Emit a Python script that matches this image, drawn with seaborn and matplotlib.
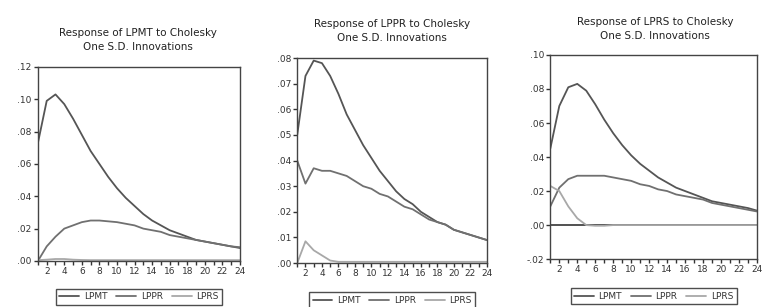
import matplotlib
matplotlib.use("Agg")
import matplotlib.pyplot as plt
import seaborn as sns
import pandas as pd
import numpy as np

periods = list(range(1, 25))
series_names = ['LPMT', 'LPPR', 'LPRS']

# Response of LPMT
lpmt_to_lpmt = [0.073, 0.099, 0.103, 0.097, 0.088, 0.078, 0.068, 0.060, 0.052, 0.045, 0.039, 0.034,
                0.029, 0.025, 0.022, 0.019, 0.017, 0.015, 0.013, 0.012, 0.011, 0.010, 0.009, 0.008]
lpmt_to_lppr = [0.000, 0.009, 0.015, 0.020, 0.022, 0.024, 0.025, 0.025, 0.0245, 0.024, 0.023, 0.022,
                0.020, 0.019, 0.018, 0.016, 0.015, 0.014, 0.013, 0.012, 0.011, 0.010, 0.009, 0.0085]
lpmt_to_lprs = [0.0005, 0.0008, 0.0012, 0.0012, 0.0008, 0.0006, 0.0005, 0.0005, 0.0005, 0.0005, 0.0005, 0.0005,
                0.0005, 0.0005, 0.0005, 0.0005, 0.0005, 0.0005, 0.0005, 0.0005, 0.0005, 0.0005, 0.0005, 0.0005]

# Response of LPPR
lppr_to_lpmt = [0.050, 0.073, 0.079, 0.078, 0.073, 0.066, 0.058, 0.052, 0.046, 0.041, 0.036, 0.032,
                0.028, 0.025, 0.023, 0.020, 0.018, 0.016, 0.015, 0.013, 0.012, 0.011, 0.010, 0.009]
lppr_to_lppr = [0.040, 0.031, 0.037, 0.036, 0.036, 0.035, 0.034, 0.032, 0.030, 0.029, 0.027, 0.026,
                0.024, 0.022, 0.021, 0.019, 0.017, 0.016, 0.015, 0.013, 0.012, 0.011, 0.010, 0.009]
lppr_to_lprs = [0.000, 0.0085, 0.005, 0.003, 0.001, 0.0005, 0.0005, 0.0005, 0.0005, 0.0005, 0.0005, 0.0005,
                0.0005, 0.0005, 0.0005, 0.0005, 0.0005, 0.0005, 0.0005, 0.0005, 0.0005, 0.0005, 0.0005, 0.0005]

# Response of LPRS
lprs_to_lpmt = [0.045, 0.070, 0.081, 0.083, 0.079, 0.071, 0.062, 0.054, 0.047, 0.041, 0.036, 0.032,
                0.028, 0.025, 0.022, 0.020, 0.018, 0.016, 0.014, 0.013, 0.012, 0.011, 0.010, 0.0085]
lprs_to_lppr = [0.011, 0.022, 0.027, 0.029, 0.029, 0.029, 0.029, 0.028, 0.027, 0.026, 0.024, 0.023,
                0.021, 0.020, 0.018, 0.017, 0.016, 0.015, 0.013, 0.012, 0.011, 0.010, 0.009, 0.008]
lprs_to_lprs = [0.023, 0.020, 0.011, 0.004, 0.000, -0.0004, -0.0004, 0.000, 0.000, 0.000, 0.000, 0.000,
                0.000, 0.000, 0.000, 0.000, 0.000, 0.000, 0.000, 0.000, 0.000, 0.000, 0.000, 0.000]

titles = ['Response of LPMT to Cholesky\nOne S.D. Innovations',
          'Response of LPPR to Cholesky\nOne S.D. Innovations',
          'Response of LPRS to Cholesky\nOne S.D. Innovations']
y_ticks = [[0.00, 0.02, 0.04, 0.06, 0.08, 0.10, 0.12],
           [0.00, 0.01, 0.02, 0.03, 0.04, 0.05, 0.06, 0.07, 0.08],
           [-0.02, 0.00, 0.02, 0.04, 0.06, 0.08, 0.10]]
y_ticklabels = [['.00', '.02', '.04', '.06', '.08', '.10', '.12'],
                ['.00', '.01', '.02', '.03', '.04', '.05', '.06', '.07', '.08'],
                ['-.02', '.00', '.02', '.04', '.06', '.08', '.10']]

panels = [(lpmt_to_lpmt, lpmt_to_lppr, lpmt_to_lprs),
          (lppr_to_lpmt, lppr_to_lppr, lppr_to_lprs),
          (lprs_to_lpmt, lprs_to_lppr, lprs_to_lprs)]

sns.set_style("white")
plt.rcParams['font.family'] = ['Liberation Sans Narrow', 'DejaVu Sans']
plt.rcParams['xtick.bottom'] = True
plt.rcParams['ytick.left'] = True
plt.rcParams['xtick.major.size'] = 3
plt.rcParams['ytick.major.size'] = 3

palette = {'LPMT': '#555555', 'LPPR': '#707070', 'LPRS': '#a8a8a8'}

fig = plt.figure(figsize=(7.74, 3.07), dpi=100)
# axes rectangles and title positions, in figure fractions
rects = [[0.049, 0.150, 0.261, 0.632],
         [0.384, 0.143, 0.245, 0.668],
         [0.711, 0.156, 0.267, 0.665]]
title_pos = [(0.178, 0.87), (0.506, 0.90), (0.846, 0.905)]

for i, (vals, rect) in enumerate(zip(panels, rects)):
    df = pd.DataFrame({'Period': periods * 3,
                       'Response': list(vals[0]) + list(vals[1]) + list(vals[2]),
                       'Shock': sum([[n] * len(periods) for n in series_names], [])})
    ax = fig.add_axes(rect)
    if i == 2:
        ax.axhline(0, color='#222222', lw=1.1, zorder=1)
    sns.lineplot(data=df, x='Period', y='Response', hue='Shock', palette=palette,
                 hue_order=series_names, lw=1.3, ax=ax)
    ax.set_xlim(1, 24)
    ax.set_ylim(y_ticks[i][0], y_ticks[i][-1])
    ax.set_xticks(periods)
    ax.set_xticklabels([str(p) if p % 2 == 0 else '' for p in periods], fontsize=6.5)
    ax.set_yticks(y_ticks[i])
    ax.set_yticklabels(y_ticklabels[i], fontsize=6.5)
    ax.tick_params(bottom=True, left=True, direction='out', length=3, width=1.0,
                   pad=1.5, color='#333333', labelcolor='#333333')
    for s in ax.spines.values():
        s.set_color('#444444')
        s.set_linewidth(1.0)
    ax.set_xlabel('')
    ax.set_ylabel('')
    fig.text(title_pos[i][0], title_pos[i][1], titles[i], ha='center', va='center',
             fontsize=7.5, color='#222222', linespacing=1.5)
    h, l = ax.get_legend_handles_labels()
    ax.legend(h, l, loc='upper center', bbox_to_anchor=(0.5, -0.12), ncol=3,
              frameon=True, fancybox=False, edgecolor='#222222', fontsize=6.5,
              handlelength=2.2, columnspacing=1.0, handletextpad=0.5,
              borderpad=0.4, labelcolor='#333333')

plt.savefig('out.png', dpi=100)
